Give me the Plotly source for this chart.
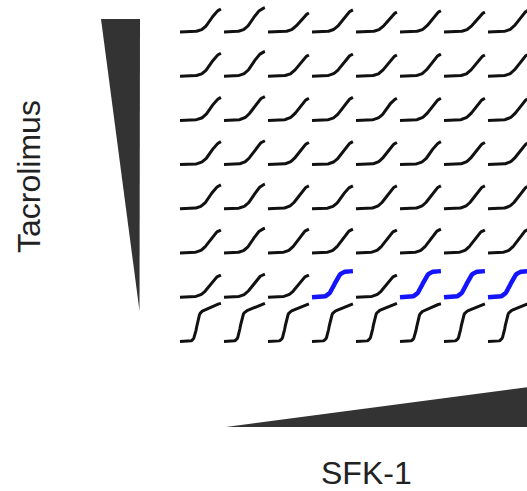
import numpy as np
import plotly.graph_objects as go

# Checkerboard of dose-response curves: Tacrolimus level per row (high at top),
# SFK-1 level per column (low at left). Each panel is a curve over normalized log dose.
N_ROWS = 8
N_COLS = 8

# Midpoint of the main rise (normalized log dose, 0..1) for each panel
MIDPOINT = [
    [0.75, 0.70, 0.78, 0.74, 0.77, 0.76, 0.77, 0.75],
    [0.75, 0.71, 0.76, 0.74, 0.76, 0.75, 0.76, 0.75],
    [0.75, 0.72, 0.75, 0.74, 0.76, 0.75, 0.75, 0.75],
    [0.75, 0.72, 0.75, 0.74, 0.75, 0.75, 0.75, 0.75],
    [0.73, 0.72, 0.74, 0.73, 0.74, 0.74, 0.74, 0.74],
    [0.72, 0.70, 0.72, 0.72, 0.72, 0.72, 0.72, 0.72],
    [0.72, 0.70, 0.72, 0.55, 0.72, 0.55, 0.55, 0.55],
    [0.41, 0.40, 0.42, 0.42, 0.42, 0.41, 0.42, 0.42],
]

# Amplitude of the main rise (percent of one row pitch)
AMPLITUDE = [
    [52, 55, 43, 50, 45, 48, 45, 50],
    [52, 56, 48, 50, 48, 50, 48, 50],
    [52, 54, 50, 52, 50, 50, 50, 50],
    [52, 54, 50, 52, 50, 52, 50, 50],
    [54, 56, 52, 52, 52, 52, 52, 52],
    [52, 56, 54, 54, 52, 54, 52, 54],
    [50, 52, 50, 59, 50, 59, 59, 59],
    [66, 66, 65, 65, 66, 65, 65, 66],
]

# Hill-type steepness of the main rise, per row
STEEPNESS = [10, 10, 10, 10, 10, 10, 10, 30]
# Second, shallow phase (only the lowest Tacrolimus row shows it)
SECOND_AMPLITUDE = [0, 0, 0, 0, 0, 0, 0, 20]
SECOND_MIDPOINT = 0.75
SECOND_STEEPNESS = 8

# Synergy-highlighted panels (row, column) and their steepness
HIGHLIGHT = [(6, 3), (6, 5), (6, 6), (6, 7)]
HIGHLIGHT_STEEPNESS = 14

DOSE = np.linspace(0, 1, 60)
CELL_W = 0.93


def rise(u, mid, k):
    lo = 1 / (1 + np.exp(k * mid))
    hi = 1 / (1 + np.exp(-k * (1 - mid)))
    return (1 / (1 + np.exp(-k * (u - mid))) - lo) / (hi - lo)


black_x, black_y, blue_x, blue_y = [], [], [], []
for r in range(N_ROWS):
    for c in range(N_COLS):
        hl = (r, c) in HIGHLIGHT
        k = HIGHLIGHT_STEEPNESS if hl else STEEPNESS[r]
        resp = AMPLITUDE[r][c] / 100 * rise(DOSE, MIDPOINT[r][c], k)
        if SECOND_AMPLITUDE[r]:
            resp = resp + SECOND_AMPLITUDE[r] / 100 * rise(DOSE, SECOND_MIDPOINT, SECOND_STEEPNESS)
        xs = list(c + CELL_W * DOSE) + [None]
        ys = list((N_ROWS - 1 - r) + resp) + [None]
        if hl:
            blue_x += xs
            blue_y += ys
        else:
            black_x += xs
            black_y += ys

fig = go.Figure()
fig.add_trace(go.Scatter(x=black_x, y=black_y, mode="lines",
                         line=dict(color="#111111", width=3), hoverinfo="skip"))
fig.add_trace(go.Scatter(x=blue_x, y=blue_y, mode="lines",
                         line=dict(color="#1414ff", width=4.5), hoverinfo="skip"))

W, H = 527, 491
PITCH_X, PITCH_Y = 44.0, 44.2
X0_PX, Y0_PX = 180.0, 341.4  # left edge of first column, baseline of bottom row


def px(x):
    return x / W


def py(y):
    return 1 - y / H


# Dose gradient wedges
wedge_color = "#333333"
fig.add_shape(type="path", xref="paper", yref="paper", line_width=0, fillcolor=wedge_color,
              path=f"M {px(101)} {py(19)} L {px(140)} {py(19)} L {px(139.5)} {py(311)} Z")
fig.add_shape(type="path", xref="paper", yref="paper", line_width=0, fillcolor=wedge_color,
              path=f"M {px(226)} {py(427)} L {px(560)} {py(383)} L {px(560)} {py(427)} Z")

label_font = dict(family="Liberation Sans, Arial, sans-serif", size=32, color="#222222")
fig.add_annotation(text="Tacrolimus", xref="paper", yref="paper", x=px(29), y=py(177),
                   textangle=-90, showarrow=False, font=label_font,
                   xanchor="center", yanchor="middle")
fig.add_annotation(text="SFK-1", xref="paper", yref="paper", x=px(366.7), y=py(472.5),
                   showarrow=False, font=label_font, xanchor="center", yanchor="middle")

fig.update_layout(
    width=W, height=H,
    margin=dict(l=0, r=0, t=0, b=0, pad=0),
    paper_bgcolor="white", plot_bgcolor="white",
    showlegend=False,
    xaxis=dict(range=[-X0_PX / PITCH_X, (W - X0_PX) / PITCH_X], visible=False, fixedrange=True),
    yaxis=dict(range=[(Y0_PX - H) / PITCH_Y, Y0_PX / PITCH_Y], visible=False, fixedrange=True),
)

fig.write_html("out.html")
